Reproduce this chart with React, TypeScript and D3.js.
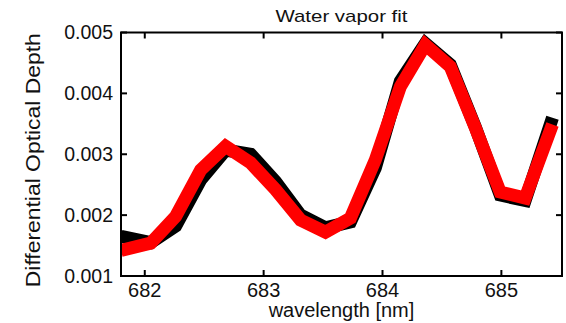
import React from 'react'
import * as d3 from 'd3'

// wavelength samples [nm]
const wavelengths = [681.80, 682.05, 682.26, 682.47, 682.68, 682.89, 683.10, 683.31, 683.52, 683.73, 683.94, 684.15, 684.36, 684.57, 684.78, 684.99, 685.20, 685.43]
// measured differential optical depth (black)
const measured = [0.00165, 0.00155, 0.00182, 0.00258, 0.00307, 0.00300, 0.00255, 0.00200, 0.00179, 0.00189, 0.00278, 0.00420, 0.00482, 0.00447, 0.00345, 0.00233, 0.00224, 0.00360]
// water vapor fit (red)
const fitted = [0.00142, 0.00154, 0.00198, 0.00274, 0.00313, 0.00286, 0.00242, 0.00192, 0.00172, 0.00195, 0.00291, 0.00411, 0.00480, 0.00444, 0.00344, 0.00238, 0.00228, 0.00349]

const xTicks = [682, 683, 684, 685]
const yTicks = [0.001, 0.002, 0.003, 0.004, 0.005]

const W = 566
const H = 323
const plot = { left: 121, right: 562, top: 32.5, bottom: 276 }
const FONT = 'Liberation Sans, Arial, Helvetica, sans-serif'

export default function App() {
  const x = d3.scaleLinear().domain([681.8, 685.51]).range([plot.left, plot.right])
  const y = d3.scaleLinear().domain([0.001, 0.005]).range([plot.bottom, plot.top])

  const line = (vals: number[]) =>
    d3.line<number>()
      .x((_, i) => x(wavelengths[i]))
      .y(d => y(d))(vals) as string

  const tick = 6

  return (
    <svg width={W} height={H} style={{ position: 'absolute', left: 0, top: 0, background: '#fff', fontFamily: FONT }}>
      <defs>
        <clipPath id="plotClip">
          <rect x={plot.left} y={plot.top} width={plot.right - plot.left} height={plot.bottom - plot.top} />
        </clipPath>
      </defs>

      <text x={(plot.left + plot.right) / 2} y={22} textAnchor="middle" fontSize={17} textLength={132} lengthAdjust="spacingAndGlyphs" fill="#111">Water vapor fit</text>

      <g clipPath="url(#plotClip)">
        <path d={line(measured)} fill="none" stroke="#000" strokeWidth={13} strokeLinejoin="miter" />
        <path d={line(fitted)} fill="none" stroke="#ff0000" strokeWidth={13} strokeLinejoin="miter" />
      </g>

      <rect x={plot.left} y={plot.top} width={plot.right - plot.left} height={plot.bottom - plot.top} fill="none" stroke="#000" strokeWidth={2} />

      {xTicks.map(t => (
        <g key={'x' + t}>
          <line x1={x(t)} x2={x(t)} y1={plot.bottom} y2={plot.bottom - tick} stroke="#000" strokeWidth={2} />
          <line x1={x(t)} x2={x(t)} y1={plot.top} y2={plot.top + tick} stroke="#000" strokeWidth={2} />
          <text x={x(t)} y={297} textAnchor="middle" fontSize={20} fill="#111">{t}</text>
        </g>
      ))}

      {yTicks.map(t => (
        <g key={'y' + t}>
          <line x1={plot.left} x2={plot.left + tick} y1={y(t)} y2={y(t)} stroke="#000" strokeWidth={2} />
          <line x1={plot.right} x2={plot.right - tick} y1={y(t)} y2={y(t)} stroke="#000" strokeWidth={2} />
          <text x={113} y={y(t)} dy="0.35em" textAnchor="end" fontSize={19.5} fill="#111">{d3.format('.3f')(t)}</text>
        </g>
      ))}

      <text x={(plot.left + plot.right) / 2} y={317} textAnchor="middle" fontSize={20} fill="#111">wavelength [nm]</text>
      <text transform={`translate(40,${(plot.top + plot.bottom) / 2 + 6}) rotate(-90)`} textAnchor="middle" fontSize={21} textLength={254} lengthAdjust="spacingAndGlyphs" fill="#111">Differential Optical Depth</text>
    </svg>
  )
}
